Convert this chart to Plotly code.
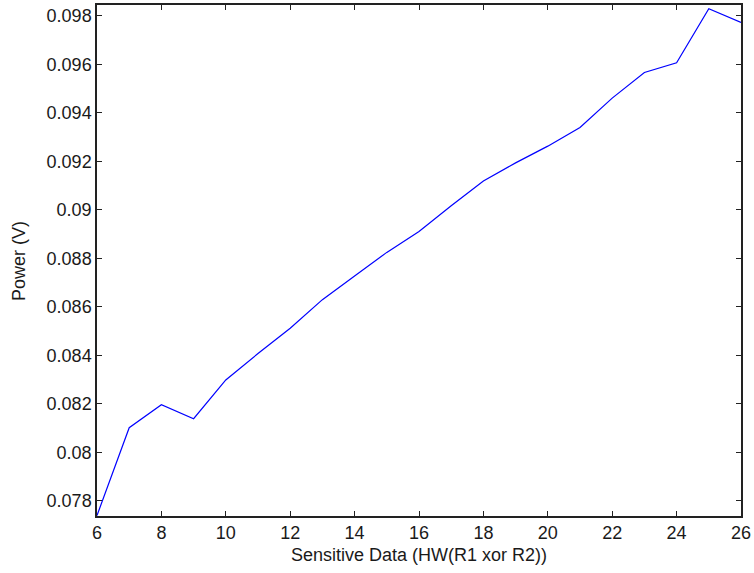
import plotly.graph_objects as go

# Hamming-weight of the sensitive data vs. measured power
hw = [6, 7, 8, 9, 10, 11, 12, 13, 14, 15, 16, 17, 18, 19, 20, 21, 22, 23, 24, 25, 26]
power = [0.07740, 0.08102, 0.08197, 0.08139, 0.08299, 0.08408, 0.08512, 0.08630,
         0.08728, 0.08825, 0.08911, 0.09017, 0.09119, 0.09194, 0.09263, 0.09340,
         0.09461, 0.09567, 0.09607, 0.09830, 0.09773]

x_ticks = [6, 8, 10, 12, 14, 16, 18, 20, 22, 24, 26]
y_ticks = [0.078, 0.080, 0.082, 0.084, 0.086, 0.088, 0.090, 0.092, 0.094, 0.096, 0.098]
y_tick_text = ["0.078", "0.08", "0.082", "0.084", "0.086", "0.088", "0.09",
               "0.092", "0.094", "0.096", "0.098"]

font = dict(family="Liberation Sans, Arial, sans-serif", size=18, color="#1a1a1a")

fig = go.Figure(
    go.Scatter(x=hw, y=power, mode="lines",
               line=dict(color="#0000ff", width=1.2))
)

axis_common = dict(
    showgrid=False, zeroline=False, mirror="ticks", showline=True,
    linecolor="#222222", linewidth=1.5, ticks="inside", ticklen=5,
    tickcolor="#222222", tickwidth=1.3, tickfont=font,
    ticklabeloverflow="allow",
)

fig.update_layout(
    width=754, height=573,
    margin=dict(l=97, r=8, t=3, b=57),
    paper_bgcolor="white", plot_bgcolor="white",
    showlegend=False,
    font=font,
    xaxis=dict(range=[6, 26], tickvals=x_ticks,
               title=dict(text="Sensitive Data (HW(R1 xor R2))", font=font, standoff=6),
               **axis_common),
    yaxis=dict(range=[0.07738, 0.09845], tickvals=y_ticks, ticktext=y_tick_text,
               **axis_common),
    annotations=[dict(
        text="Power (V)", textangle=-90, font=font, showarrow=False,
        xref="paper", yref="paper", x=-0.122, y=0.5,
        xanchor="center", yanchor="middle",
    )],
)

fig.write_html("out.html")
